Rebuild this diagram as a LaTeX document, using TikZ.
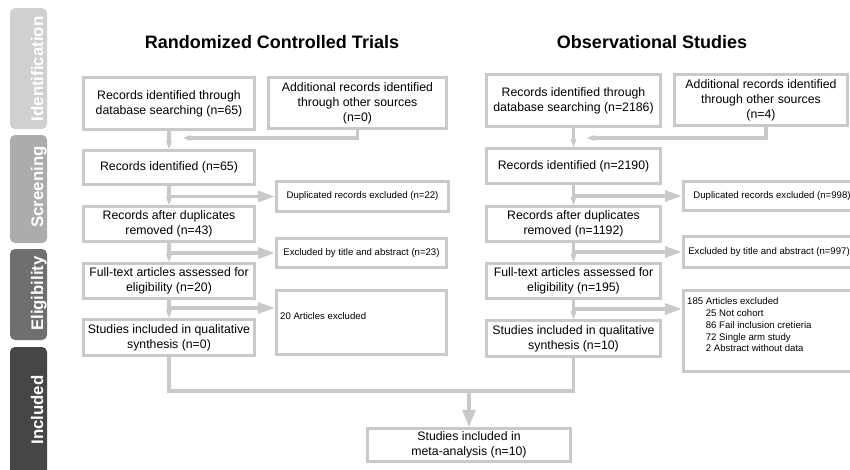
\documentclass[tikz,border=0pt]{standalone}
\usepackage{fontspec}
\setmainfont{Liberation Sans}
\usetikzlibrary{arrows.meta}
\definecolor{ln}{HTML}{C9C9C9}
\definecolor{tabA}{HTML}{D0D0D0}
\definecolor{tabB}{HTML}{ACACAC}
\definecolor{tabC}{HTML}{6F6F6F}
\definecolor{tabD}{HTML}{464646}
\tikzset{
  box/.style={draw=ln, line width=3.2pt, inner sep=2pt, align=center,
    font=\fontsize{12.3}{15}\selectfont},
  sbox/.style={draw=ln, line width=3.2pt, inner sep=2pt, align=center,
    font=\fontsize{9.6}{11.8}\selectfont},
  stxt/.style={inner sep=0pt, align=left, font=\fontsize{9.6}{11.8}\selectfont},
  conn/.style={draw=ln, line width=3.2pt},
  chev/.style={conn, -{Stealth[length=14pt,width=11pt,inset=9pt,fill=ln]}},
  side/.style={conn, -{Triangle[length=17pt,width=11pt,fill=ln]}},
  fin/.style={conn, -{Triangle[length=17pt,width=13pt,fill=ln]}},
  tab/.style={rounded corners=5pt, inner sep=0pt, minimum width=37pt},
  tabtxt/.style={rotate=90, anchor=base, text=white,
    font=\fontsize{16.8}{20}\selectfont\bfseries, inner sep=0pt},
  ttl/.style={anchor=base, font=\fontsize{18}{22}\selectfont\bfseries, inner sep=0pt}
}
\begin{document}
\begin{tikzpicture}[x=1pt,y=-1pt]
\useasboundingbox (0,0) rectangle (850,469);
\begin{scope}
\clip (0,0) rectangle (850,469);
% side tabs
\node[tab, fill=tabA, minimum height=121pt] (tI) at (28.5,68.5) {};
\node[tab, fill=tabB, minimum height=108pt] (tS) at (28.5,189) {};
\node[tab, fill=tabC, minimum height=91pt] (tE) at (28.5,294.5) {};
\node[tab, fill=tabD, minimum height=128pt] (tN) at (28.5,411) {};
\node[tabtxt] (lI) at (43,69) {Identification};
\node[tabtxt] (lS) at (43,187) {Screening};
\node[tabtxt] (lE) at (43,293.5) {Eligibility};
\node[tabtxt] (lN) at (43,410) {Included};

% titles
\node[ttl] (tr) at (272,48) {Randomized Controlled Trials};
\node[ttl] (to) at (652,48) {Observational Studies};

% RCT column
\node[box, minimum width=171pt, minimum height=52pt] (r1) at (169,103.5) {Records identified through\\database searching (n=65)};
\node[box, minimum width=178pt, minimum height=51pt] (r2) at (357.5,103) {Additional records identified\\through other sources\\(n=0)};
\node[box, minimum width=171pt, minimum height=34pt] (r3) at (169,167.5) {Records identified (n=65)};
\node[box, minimum width=171pt, minimum height=35pt] (r4) at (169,224) {Records after duplicates\\removed (n=43)};
\node[box, minimum width=171pt, minimum height=35pt] (r5) at (169,281) {Full-text articles assessed for\\eligibility (n=20)};
\node[box, minimum width=171pt, minimum height=36pt] (r6) at (169,337.5) {Studies included in qualitative\\synthesis (n=0)};
\node[sbox, minimum width=172pt, minimum height=30pt] (rd) at (362.5,196.5) {Duplicated records excluded (n=22)};
\node[sbox, minimum width=170pt, minimum height=29pt] (rx) at (361.5,253) {Excluded by title and abstract (n=23)};
\node[sbox, minimum width=170pt, minimum height=64pt] (ra) at (361.5,322.5) {};
\node[stxt, anchor=base west] (rat) at (280,319.5) {20 Articles excluded};

% Observational column
\node[box, minimum width=174pt, minimum height=52pt] (o1) at (573.5,100.5) {Records identified through\\database searching (n=2186)};
\node[box, minimum width=173pt, minimum height=51pt] (o2) at (761,100) {Additional records identified\\through other sources\\(n=4)};
\node[box, minimum width=174pt, minimum height=35pt] (o3) at (573.5,166) {Records identified (n=2190)};
\node[box, minimum width=174pt, minimum height=35pt] (o4) at (573.5,224) {Records after duplicates\\removed (n=1192)};
\node[box, minimum width=174pt, minimum height=35pt] (o5) at (573.5,281) {Full-text articles assessed for\\eligibility (n=195)};
\node[box, minimum width=174pt, minimum height=36pt] (o6) at (573.5,338.5) {Studies included in qualitative\\synthesis (n=10)};
\node[sbox, minimum width=177pt, minimum height=29pt] (od) at (772,196) {Duplicated records excluded (n=998)};
\node[sbox, minimum width=171pt, minimum height=31pt] (ox) at (769,252) {Excluded by title and abstract (n=997)};
\node[sbox, minimum width=177pt, minimum height=81pt] (oa) at (772,331) {};
\node[stxt, anchor=north west] (oat) at (687,297.5) {185 Articles excluded\\
\phantom{185 }25 Not cohort\\
\phantom{185 }86 Fail inclusion cretieria\\
\phantom{185 }72 Single arm study\\
\phantom{185 }2 Abstract without data};

% final
\node[box, minimum width=203pt, minimum height=33pt] (f) at (469,445) {Studies included in\\meta-analysis (n=10)};

% RCT connectors
\coordinate (rk) at (183,138);
\coordinate (rq) at (169,308);
\draw[chev] (r1) -- (r3);
\draw[chev] (r2.south) |- (rk);
\draw[chev] (r3) -- (r4);
\draw[chev] (r4) -- (r5);
\draw[chev] (r5) -- (r6);
\draw[side] (r3.south |- rd.west) -- (rd.west);
\draw[side] (r4.south |- rx.west) -- (rx.west);
\draw[side] (rq) -- (rq -| ra.west);

% Obs connectors
\coordinate (ok) at (587,138);
\coordinate (oq) at (573.5,309);
\draw[chev] (o1) -- (o3);
\draw[chev] (o2.south -| 766,0) |- (ok);
\draw[chev] (o3) -- (o4);
\draw[chev] (o4) -- (o5);
\draw[chev] (o5) -- (o6);
\draw[side] (o3.south |- od.west) -- (od.west);
\draw[side] (o4.south |- ox.west) -- (ox.west);
\draw[side] (oq) -- (oq -| oa.west);

% join
\coordinate (j) at (469,391);
\draw[conn] (r6.south) |- (j) -| (o6.south);
\draw[fin] (j) -- (f.north);
\end{scope}
\end{tikzpicture}
\end{document}
